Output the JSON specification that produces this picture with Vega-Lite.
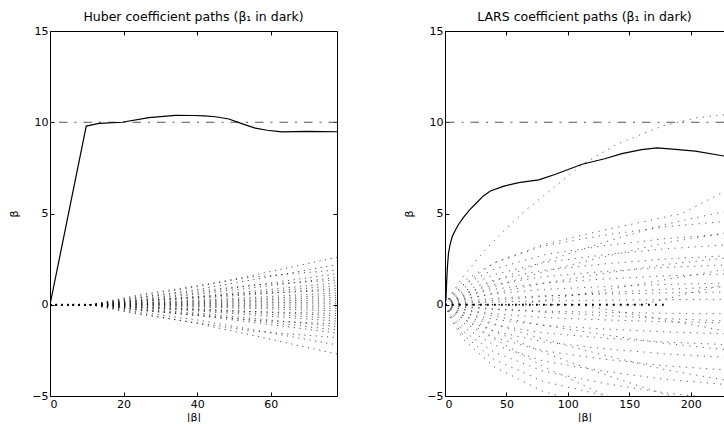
{
"$schema": "https://vega.github.io/schema/vega-lite/v6.json",
"padding": {"left": 8, "top": 10, "right": 0, "bottom": 0},
"spacing": 65,
"config": {
  "view": {"stroke": null},
  "font": "DejaVu Sans",
  "axis": {"labelFont": "DejaVu Sans", "labelFontSize": 11, "labelColor": "black", "titleFont": "DejaVu Sans", "titleFontSize": 11, "titleFontWeight": "normal", "titleColor": "black", "domainColor": "black", "domainWidth": 1, "tickColor": "black", "tickWidth": 1, "tickSize": -4, "grid": false, "labelPadding": 6},
  "axisLeft": {"titlePadding": 12},
  "axisBottom": {"titlePadding": 2},
  "title": {"font": "DejaVu Sans", "fontSize": 12.5, "fontWeight": "normal", "color": "black", "anchor": "middle", "offset": 2}
},
"datasets": {
  "hub_b1": [{"x":0,"y":0},{"x":9.85,"y":9.79},{"x":13.3,"y":9.94},{"x":19.6,"y":10.0},{"x":26.9,"y":10.25},{"x":34.1,"y":10.38},{"x":39,"y":10.37},{"x":42,"y":10.35},{"x":45,"y":10.3},{"x":48.6,"y":10.18},{"x":52.5,"y":9.9},{"x":55.8,"y":9.68},{"x":59,"y":9.56},{"x":63,"y":9.47},{"x":70,"y":9.5},{"x":78,"y":9.48}],
  "hub_zero": [{"x":0,"y":0},{"x":11,"y":0}],
  "hub_fan": [
{"p":1,"x":0,"y":0},{"p":1,"x":11,"y":0},{"p":1,"x":25,"y":0.494},{"p":1,"x":40,"y":0.988},{"p":1,"x":55,"y":1.612},{"p":1,"x":78,"y":2.6},
{"p":2,"x":0,"y":0},{"p":2,"x":11,"y":0},{"p":2,"x":25,"y":0.418},{"p":2,"x":40,"y":0.836},{"p":2,"x":55,"y":1.364},{"p":2,"x":78,"y":2.2},
{"p":3,"x":0,"y":0},{"p":3,"x":11,"y":0},{"p":3,"x":25,"y":0.57},{"p":3,"x":40,"y":1.045},{"p":3,"x":55,"y":1.52},{"p":3,"x":78,"y":1.9},
{"p":4,"x":0,"y":0},{"p":4,"x":11,"y":0},{"p":4,"x":25,"y":0.323},{"p":4,"x":40,"y":0.646},{"p":4,"x":55,"y":1.054},{"p":4,"x":78,"y":1.7},
{"p":5,"x":0,"y":0},{"p":5,"x":11,"y":0},{"p":5,"x":25,"y":0.285},{"p":5,"x":40,"y":0.57},{"p":5,"x":55,"y":0.93},{"p":5,"x":78,"y":1.5},
{"p":6,"x":0,"y":0},{"p":6,"x":11,"y":0},{"p":6,"x":25,"y":0.405},{"p":6,"x":40,"y":0.743},{"p":6,"x":55,"y":1.08},{"p":6,"x":78,"y":1.35},
{"p":7,"x":0,"y":0},{"p":7,"x":11,"y":0},{"p":7,"x":25,"y":0.228},{"p":7,"x":40,"y":0.456},{"p":7,"x":55,"y":0.744},{"p":7,"x":78,"y":1.2},
{"p":8,"x":0,"y":0},{"p":8,"x":11,"y":0},{"p":8,"x":25,"y":0.2},{"p":8,"x":40,"y":0.399},{"p":8,"x":55,"y":0.651},{"p":8,"x":78,"y":1.05},
{"p":9,"x":0,"y":0},{"p":9,"x":11,"y":0},{"p":9,"x":25,"y":0.171},{"p":9,"x":40,"y":0.342},{"p":9,"x":55,"y":0.558},{"p":9,"x":78,"y":0.9},
{"p":10,"x":0,"y":0},{"p":10,"x":11,"y":0},{"p":10,"x":25,"y":0.234},{"p":10,"x":40,"y":0.429},{"p":10,"x":55,"y":0.624},{"p":10,"x":78,"y":0.78},
{"p":11,"x":0,"y":0},{"p":11,"x":11,"y":0},{"p":11,"x":25,"y":0.124},{"p":11,"x":40,"y":0.247},{"p":11,"x":55,"y":0.403},{"p":11,"x":78,"y":0.65},
{"p":12,"x":0,"y":0},{"p":12,"x":11,"y":0},{"p":12,"x":25,"y":0.099},{"p":12,"x":40,"y":0.198},{"p":12,"x":55,"y":0.322},{"p":12,"x":78,"y":0.52},
{"p":13,"x":0,"y":0},{"p":13,"x":11,"y":0},{"p":13,"x":25,"y":0.076},{"p":13,"x":40,"y":0.152},{"p":13,"x":55,"y":0.248},{"p":13,"x":78,"y":0.4},
{"p":14,"x":0,"y":0},{"p":14,"x":11,"y":0},{"p":14,"x":25,"y":0.053},{"p":14,"x":40,"y":0.106},{"p":14,"x":55,"y":0.174},{"p":14,"x":78,"y":0.28},
{"p":15,"x":0,"y":0},{"p":15,"x":11,"y":0},{"p":15,"x":25,"y":0.03},{"p":15,"x":40,"y":0.061},{"p":15,"x":55,"y":0.099},{"p":15,"x":78,"y":0.16},
{"p":16,"x":0,"y":0},{"p":16,"x":11,"y":0},{"p":16,"x":25,"y":0.01},{"p":16,"x":40,"y":0.019},{"p":16,"x":55,"y":0.031},{"p":16,"x":78,"y":0.05},
{"p":17,"x":0,"y":0},{"p":17,"x":11,"y":0},{"p":17,"x":25,"y":-0.015},{"p":17,"x":40,"y":-0.03},{"p":17,"x":55,"y":-0.05},{"p":17,"x":78,"y":-0.08},
{"p":18,"x":0,"y":0},{"p":18,"x":11,"y":0},{"p":18,"x":25,"y":-0.038},{"p":18,"x":40,"y":-0.076},{"p":18,"x":55,"y":-0.124},{"p":18,"x":78,"y":-0.2},
{"p":19,"x":0,"y":0},{"p":19,"x":11,"y":0},{"p":19,"x":25,"y":-0.063},{"p":19,"x":40,"y":-0.125},{"p":19,"x":55,"y":-0.205},{"p":19,"x":78,"y":-0.33},
{"p":20,"x":0,"y":0},{"p":20,"x":11,"y":0},{"p":20,"x":25,"y":-0.141},{"p":20,"x":40,"y":-0.259},{"p":20,"x":55,"y":-0.376},{"p":20,"x":78,"y":-0.47},
{"p":21,"x":0,"y":0},{"p":21,"x":11,"y":0},{"p":21,"x":25,"y":-0.114},{"p":21,"x":40,"y":-0.228},{"p":21,"x":55,"y":-0.372},{"p":21,"x":78,"y":-0.6},
{"p":22,"x":0,"y":0},{"p":22,"x":11,"y":0},{"p":22,"x":25,"y":-0.143},{"p":22,"x":40,"y":-0.285},{"p":22,"x":55,"y":-0.465},{"p":22,"x":78,"y":-0.75},
{"p":23,"x":0,"y":0},{"p":23,"x":11,"y":0},{"p":23,"x":25,"y":-0.171},{"p":23,"x":40,"y":-0.342},{"p":23,"x":55,"y":-0.558},{"p":23,"x":78,"y":-0.9},
{"p":24,"x":0,"y":0},{"p":24,"x":11,"y":0},{"p":24,"x":25,"y":-0.315},{"p":24,"x":40,"y":-0.578},{"p":24,"x":55,"y":-0.84},{"p":24,"x":78,"y":-1.05},
{"p":25,"x":0,"y":0},{"p":25,"x":11,"y":0},{"p":25,"x":25,"y":-0.228},{"p":25,"x":40,"y":-0.456},{"p":25,"x":55,"y":-0.744},{"p":25,"x":78,"y":-1.2},
{"p":26,"x":0,"y":0},{"p":26,"x":11,"y":0},{"p":26,"x":25,"y":-0.262},{"p":26,"x":40,"y":-0.524},{"p":26,"x":55,"y":-0.856},{"p":26,"x":78,"y":-1.38},
{"p":27,"x":0,"y":0},{"p":27,"x":11,"y":0},{"p":27,"x":25,"y":-0.295},{"p":27,"x":40,"y":-0.589},{"p":27,"x":55,"y":-0.961},{"p":27,"x":78,"y":-1.55},
{"p":28,"x":0,"y":0},{"p":28,"x":11,"y":0},{"p":28,"x":25,"y":-0.54},{"p":28,"x":40,"y":-0.99},{"p":28,"x":55,"y":-1.44},{"p":28,"x":78,"y":-1.8},
{"p":29,"x":0,"y":0},{"p":29,"x":11,"y":0},{"p":29,"x":25,"y":-0.418},{"p":29,"x":40,"y":-0.836},{"p":29,"x":55,"y":-1.364},{"p":29,"x":78,"y":-2.2},
{"p":30,"x":0,"y":0},{"p":30,"x":11,"y":0},{"p":30,"x":25,"y":-0.513},{"p":30,"x":40,"y":-1.026},{"p":30,"x":55,"y":-1.674},{"p":30,"x":78,"y":-2.7}
  ],
  "lars_b1": [{"x":0,"y":0},{"x":0.8,"y":0.3},{"x":1.3,"y":1.2},{"x":1.9,"y":2.0},{"x":2.8,"y":2.8},{"x":4.1,"y":3.3},{"x":6,"y":3.75},{"x":8.1,"y":4.04},{"x":11,"y":4.4},{"x":14.9,"y":4.77},{"x":20,"y":5.2},{"x":25.8,"y":5.59},{"x":31,"y":5.95},{"x":36.9,"y":6.23},{"x":48,"y":6.5},{"x":60,"y":6.69},{"x":76.3,"y":6.84},{"x":90,"y":7.15},{"x":111.6,"y":7.7},{"x":130,"y":8.0},{"x":144,"y":8.28},{"x":160,"y":8.5},{"x":172.6,"y":8.6},{"x":190,"y":8.5},{"x":203.8,"y":8.42},{"x":227,"y":8.15},{"x":234,"y":8.05}],
  "lars_zero": [{"x":0,"y":0},{"x":180,"y":0}],
  "lars_fan": [
{"p":"a","x":0,"y":0},{"p":"a","x":5,"y":0.55},{"p":"a","x":14,"y":1.47},{"p":"a","x":30,"y":2.8},{"p":"a","x":46,"y":3.93},{"p":"a","x":65,"y":5.14},{"p":"a","x":90,"y":6.5},{"p":"a","x":112,"y":7.7},{"p":"a","x":140,"y":8.8},{"p":"a","x":177,"y":9.8},{"p":"a","x":205,"y":10.25},{"p":"a","x":234,"y":10.45},
{"p":"b","x":0,"y":0},{"p":"b","x":5,"y":0.4},{"p":"b","x":15,"y":1.1},{"p":"b","x":40,"y":2.3},{"p":"b","x":80,"y":3.3},{"p":"b","x":130,"y":4.1},{"p":"b","x":193,"y":5.0},{"p":"b","x":227,"y":6.2},{"p":"b","x":234,"y":6.45},
{"p":"c1","x":0,"y":0},{"p":"c1","x":5,"y":0.552},{"p":"c1","x":15,"y":1.288},{"p":"c1","x":40,"y":2.3},{"p":"c1","x":80,"y":3.22},{"p":"c1","x":130,"y":3.818},{"p":"c1","x":180,"y":4.278},{"p":"c1","x":234,"y":4.6},
{"p":"c2","x":0,"y":0},{"p":"c2","x":5,"y":0.468},{"p":"c2","x":15,"y":1.092},{"p":"c2","x":40,"y":1.95},{"p":"c2","x":80,"y":2.73},{"p":"c2","x":130,"y":3.237},{"p":"c2","x":180,"y":3.627},{"p":"c2","x":234,"y":3.9},
{"p":"c3","x":0,"y":0},{"p":"c3","x":5,"y":0.396},{"p":"c3","x":15,"y":0.924},{"p":"c3","x":40,"y":1.65},{"p":"c3","x":80,"y":2.31},{"p":"c3","x":130,"y":2.739},{"p":"c3","x":180,"y":3.069},{"p":"c3","x":234,"y":3.3},
{"p":"c4","x":0,"y":0},{"p":"c4","x":5,"y":0.324},{"p":"c4","x":15,"y":0.756},{"p":"c4","x":40,"y":1.35},{"p":"c4","x":80,"y":1.89},{"p":"c4","x":130,"y":2.241},{"p":"c4","x":180,"y":2.511},{"p":"c4","x":234,"y":2.7},
{"p":"c5","x":0,"y":0},{"p":"c5","x":5,"y":0.264},{"p":"c5","x":15,"y":0.616},{"p":"c5","x":40,"y":1.1},{"p":"c5","x":80,"y":1.54},{"p":"c5","x":130,"y":1.826},{"p":"c5","x":180,"y":2.046},{"p":"c5","x":234,"y":2.2},
{"p":"c6","x":0,"y":0},{"p":"c6","x":5,"y":0.204},{"p":"c6","x":15,"y":0.476},{"p":"c6","x":40,"y":0.85},{"p":"c6","x":80,"y":1.19},{"p":"c6","x":130,"y":1.411},{"p":"c6","x":180,"y":1.581},{"p":"c6","x":234,"y":1.7},
{"p":"c7","x":0,"y":0},{"p":"c7","x":5,"y":0.144},{"p":"c7","x":15,"y":0.336},{"p":"c7","x":40,"y":0.6},{"p":"c7","x":80,"y":0.84},{"p":"c7","x":130,"y":0.996},{"p":"c7","x":180,"y":1.116},{"p":"c7","x":234,"y":1.2},
{"p":"c8","x":0,"y":0},{"p":"c8","x":5,"y":0.084},{"p":"c8","x":15,"y":0.196},{"p":"c8","x":40,"y":0.35},{"p":"c8","x":80,"y":0.49},{"p":"c8","x":130,"y":0.581},{"p":"c8","x":180,"y":0.651},{"p":"c8","x":234,"y":0.7},
{"p":"c9","x":0,"y":0},{"p":"c9","x":5,"y":0.036},{"p":"c9","x":15,"y":0.084},{"p":"c9","x":40,"y":0.15},{"p":"c9","x":80,"y":0.21},{"p":"c9","x":130,"y":0.249},{"p":"c9","x":180,"y":0.279},{"p":"c9","x":234,"y":0.3},
{"p":"c10","x":0,"y":0},{"p":"c10","x":5,"y":-0.06},{"p":"c10","x":15,"y":-0.14},{"p":"c10","x":40,"y":-0.25},{"p":"c10","x":80,"y":-0.35},{"p":"c10","x":130,"y":-0.415},{"p":"c10","x":180,"y":-0.465},{"p":"c10","x":234,"y":-0.5},
{"p":"c11","x":0,"y":0},{"p":"c11","x":5,"y":-0.12},{"p":"c11","x":15,"y":-0.28},{"p":"c11","x":40,"y":-0.5},{"p":"c11","x":80,"y":-0.7},{"p":"c11","x":130,"y":-0.83},{"p":"c11","x":180,"y":-0.93},{"p":"c11","x":234,"y":-1.0},
{"p":"c12","x":0,"y":0},{"p":"c12","x":5,"y":-0.192},{"p":"c12","x":15,"y":-0.448},{"p":"c12","x":40,"y":-0.8},{"p":"c12","x":80,"y":-1.12},{"p":"c12","x":130,"y":-1.328},{"p":"c12","x":180,"y":-1.488},{"p":"c12","x":234,"y":-1.6},
{"p":"c13","x":0,"y":0},{"p":"c13","x":5,"y":-0.264},{"p":"c13","x":15,"y":-0.616},{"p":"c13","x":40,"y":-1.1},{"p":"c13","x":80,"y":-1.54},{"p":"c13","x":130,"y":-1.826},{"p":"c13","x":180,"y":-2.046},{"p":"c13","x":234,"y":-2.2},
{"p":"c14","x":0,"y":0},{"p":"c14","x":5,"y":-0.348},{"p":"c14","x":15,"y":-0.812},{"p":"c14","x":40,"y":-1.45},{"p":"c14","x":80,"y":-2.03},{"p":"c14","x":130,"y":-2.407},{"p":"c14","x":180,"y":-2.697},{"p":"c14","x":234,"y":-2.9},
{"p":"c15","x":0,"y":0},{"p":"c15","x":5,"y":-0.432},{"p":"c15","x":15,"y":-1.008},{"p":"c15","x":40,"y":-1.8},{"p":"c15","x":80,"y":-2.52},{"p":"c15","x":130,"y":-2.988},{"p":"c15","x":180,"y":-3.348},{"p":"c15","x":234,"y":-3.6},
{"p":"c16","x":0,"y":0},{"p":"c16","x":5,"y":-0.528},{"p":"c16","x":15,"y":-1.232},{"p":"c16","x":40,"y":-2.2},{"p":"c16","x":80,"y":-3.08},{"p":"c16","x":130,"y":-3.652},{"p":"c16","x":180,"y":-4.092},{"p":"c16","x":234,"y":-4.4},
{"p":"c17","x":0,"y":0},{"p":"c17","x":5,"y":-0.624},{"p":"c17","x":15,"y":-1.456},{"p":"c17","x":40,"y":-2.6},{"p":"c17","x":80,"y":-3.64},{"p":"c17","x":130,"y":-4.316},{"p":"c17","x":180,"y":-4.836},{"p":"c17","x":234,"y":-5.2},
{"p":"c18","x":0,"y":0},{"p":"c18","x":5,"y":-0.72},{"p":"c18","x":15,"y":-1.68},{"p":"c18","x":40,"y":-3.0},{"p":"c18","x":80,"y":-4.2},{"p":"c18","x":130,"y":-4.98},{"p":"c18","x":180,"y":-5.58},{"p":"c18","x":234,"y":-6.0},
{"p":"c19","x":0,"y":0},{"p":"c19","x":5,"y":-0.816},{"p":"c19","x":15,"y":-1.904},{"p":"c19","x":40,"y":-3.4},{"p":"c19","x":80,"y":-4.76},{"p":"c19","x":130,"y":-5.644},{"p":"c19","x":180,"y":-6.324},{"p":"c19","x":234,"y":-6.8},
{"p":"g1","x":0,"y":0},{"p":"g1","x":5,"y":0.208},{"p":"g1","x":15,"y":0.52},{"p":"g1","x":40,"y":1.3},{"p":"g1","x":80,"y":2.34},{"p":"g1","x":130,"y":3.432},{"p":"g1","x":180,"y":4.42},{"p":"g1","x":234,"y":5.2},
{"p":"g2","x":0,"y":0},{"p":"g2","x":5,"y":0.16},{"p":"g2","x":15,"y":0.4},{"p":"g2","x":40,"y":1.0},{"p":"g2","x":80,"y":1.8},{"p":"g2","x":130,"y":2.64},{"p":"g2","x":180,"y":3.4},{"p":"g2","x":234,"y":4.0},
{"p":"g3","x":0,"y":0},{"p":"g3","x":5,"y":0.104},{"p":"g3","x":15,"y":0.26},{"p":"g3","x":40,"y":0.65},{"p":"g3","x":80,"y":1.17},{"p":"g3","x":130,"y":1.716},{"p":"g3","x":180,"y":2.21},{"p":"g3","x":234,"y":2.6},
{"p":"g4","x":0,"y":0},{"p":"g4","x":5,"y":0.04},{"p":"g4","x":15,"y":0.1},{"p":"g4","x":40,"y":0.25},{"p":"g4","x":80,"y":0.45},{"p":"g4","x":130,"y":0.66},{"p":"g4","x":180,"y":0.85},{"p":"g4","x":234,"y":1.0},
{"p":"g5","x":0,"y":0},{"p":"g5","x":5,"y":-0.036},{"p":"g5","x":15,"y":-0.09},{"p":"g5","x":40,"y":-0.225},{"p":"g5","x":80,"y":-0.405},{"p":"g5","x":130,"y":-0.594},{"p":"g5","x":180,"y":-0.765},{"p":"g5","x":234,"y":-0.9},
{"p":"g6","x":0,"y":0},{"p":"g6","x":5,"y":-0.1},{"p":"g6","x":15,"y":-0.25},{"p":"g6","x":40,"y":-0.625},{"p":"g6","x":80,"y":-1.125},{"p":"g6","x":130,"y":-1.65},{"p":"g6","x":180,"y":-2.125},{"p":"g6","x":234,"y":-2.5},
{"p":"g7","x":0,"y":0},{"p":"g7","x":5,"y":-0.168},{"p":"g7","x":15,"y":-0.42},{"p":"g7","x":40,"y":-1.05},{"p":"g7","x":80,"y":-1.89},{"p":"g7","x":130,"y":-2.772},{"p":"g7","x":180,"y":-3.57},{"p":"g7","x":234,"y":-4.2},
{"p":"g8","x":0,"y":0},{"p":"g8","x":5,"y":-0.232},{"p":"g8","x":15,"y":-0.58},{"p":"g8","x":40,"y":-1.45},{"p":"g8","x":80,"y":-2.61},{"p":"g8","x":130,"y":-3.828},{"p":"g8","x":180,"y":-4.93},{"p":"g8","x":234,"y":-5.8},
{"p":"g9","x":0,"y":0},{"p":"g9","x":5,"y":-0.3},{"p":"g9","x":15,"y":-0.75},{"p":"g9","x":40,"y":-1.875},{"p":"g9","x":80,"y":-3.375},{"p":"g9","x":130,"y":-4.95},{"p":"g9","x":180,"y":-6.375},{"p":"g9","x":234,"y":-7.5},
{"p":"l1","x":0,"y":0},{"p":"l1","x":60,"y":0},{"p":"l1","x":234,"y":2.0},
{"p":"l2","x":0,"y":0},{"p":"l2","x":110,"y":0},{"p":"l2","x":234,"y":-1.5},
{"p":"l3","x":0,"y":0},{"p":"l3","x":160,"y":0},{"p":"l3","x":234,"y":1.2}
  ]
},
"hconcat": [
  {
    "width": 287, "height": 365,
    "title": {"text": "Huber coefficient paths (β₁ in dark)"},
    "layer": [
      {"data": {"values": [{"y": 10}]}, "mark": {"type": "rule", "stroke": "#555555", "strokeWidth": 1, "strokeDash": [8.5, 7, 2, 7]},
       "encoding": {"y": {"field": "y", "type": "quantitative", "scale": {"domain": [-5, 15], "nice": false, "zero": false}, "axis": {"orient": "left", "values": [-5, 0, 5, 10, 15], "title": "β"}}}},
      {"data": {"name": "hub_fan"}, "mark": {"type": "line", "clip": true, "stroke": "black", "strokeWidth": 0.9, "strokeDash": [1.2, 4.5], "opacity": 0.75},
       "encoding": {"x": {"field": "x", "type": "quantitative", "scale": {"domain": [0, 78], "nice": false, "zero": false}, "axis": {"orient": "bottom", "values": [0, 20, 40, 60], "title": "|β|"}},
                    "y": {"field": "y", "type": "quantitative", "axis": null}, "detail": {"field": "p", "type": "nominal"}}},
      {"data": {"name": "hub_zero"}, "mark": {"type": "line", "clip": true, "stroke": "black", "strokeWidth": 2, "strokeDash": [1.5, 4.2]},
       "encoding": {"x": {"field": "x", "type": "quantitative", "axis": null}, "y": {"field": "y", "type": "quantitative", "axis": null}}},
      {"data": {"name": "hub_b1"}, "mark": {"type": "line", "clip": true, "stroke": "black", "strokeWidth": 1.2},
       "encoding": {"x": {"field": "x", "type": "quantitative", "axis": {"orient": "top", "values": [0, 20, 40, 60], "labels": false, "title": null, "minExtent": 0, "maxExtent": 0}},
                    "y": {"field": "y", "type": "quantitative", "axis": {"orient": "right", "values": [-5, 0, 5, 10, 15], "labels": false, "title": null, "minExtent": 0, "maxExtent": 0}}}}
    ]
  },
  {
    "width": 279, "height": 365,
    "title": {"text": "LARS coefficient paths (β₁ in dark)"},
    "resolve": {"axis": {"x": "independent", "y": "independent"}},
    "layer": [
      {"data": {"values": [{"y": 10}]}, "mark": {"type": "rule", "stroke": "#555555", "strokeWidth": 1, "strokeDash": [8.5, 7, 2, 7]},
       "encoding": {"y": {"field": "y", "type": "quantitative", "scale": {"domain": [-5, 15], "nice": false, "zero": false}, "axis": {"orient": "left", "values": [-5, 0, 5, 10, 15], "title": "β"}}}},
      {"data": {"name": "lars_fan"}, "mark": {"type": "line", "clip": true, "stroke": "black", "strokeWidth": 0.9, "strokeDash": [1.2, 5.5], "opacity": 0.7},
       "encoding": {"x": {"field": "x", "type": "quantitative", "scale": {"domain": [0, 227.1], "nice": false, "zero": false}, "axis": {"orient": "bottom", "values": [0, 50, 100, 150, 200], "title": "|β|"}},
                    "y": {"field": "y", "type": "quantitative", "axis": null}, "detail": {"field": "p", "type": "nominal"}}},
      {"data": {"name": "lars_zero"}, "mark": {"type": "line", "clip": true, "stroke": "black", "strokeWidth": 2, "strokeDash": [1.8, 5.2]},
       "encoding": {"x": {"field": "x", "type": "quantitative", "axis": null}, "y": {"field": "y", "type": "quantitative", "axis": null}}},
      {"data": {"name": "lars_b1"}, "mark": {"type": "line", "clip": true, "stroke": "black", "strokeWidth": 1.2},
       "encoding": {"x": {"field": "x", "type": "quantitative", "axis": {"orient": "top", "values": [0, 50, 100, 150, 200], "labels": false, "title": null, "minExtent": 0, "maxExtent": 0}},
                    "y": {"field": "y", "type": "quantitative", "axis": {"orient": "right", "labels": false, "ticks": false, "domain": false, "title": null, "minExtent": 0, "maxExtent": 0}}}}
    ]
  }
]
}
